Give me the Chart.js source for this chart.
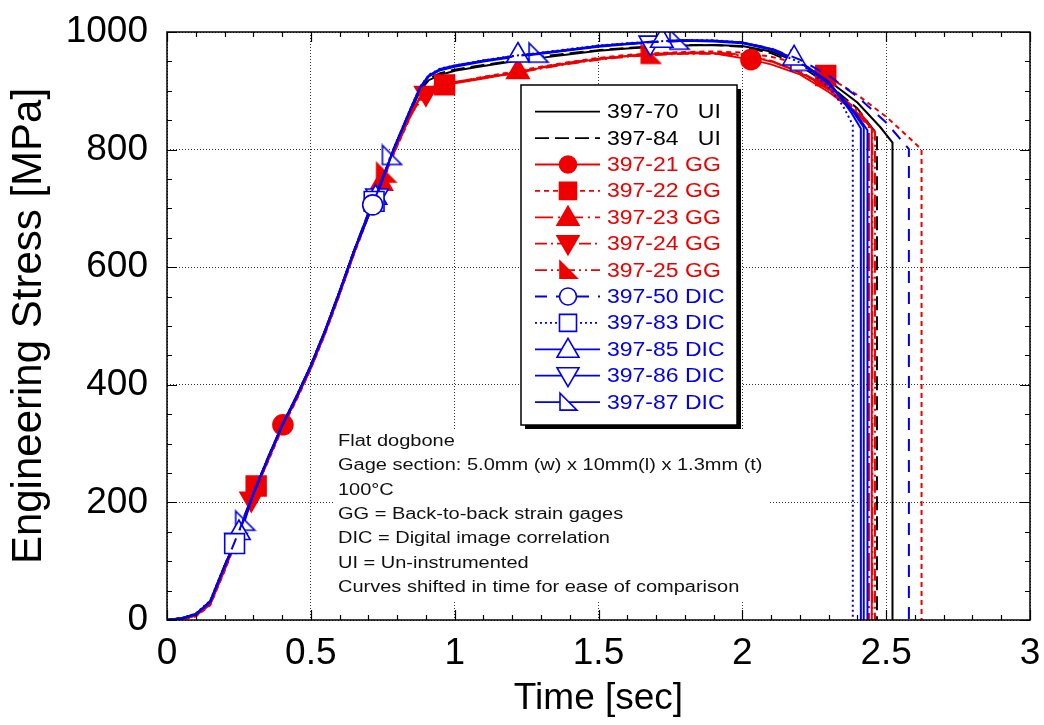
<!DOCTYPE html>
<html><head><meta charset="utf-8">
<script src="https://cdn.jsdelivr.net/npm/chart.js@4/dist/chart.umd.min.js"></script>
<style>html,body{margin:0;padding:0;background:#fff;}#wrap{width:1044px;height:725px;}</style>
</head><body><div id="wrap"><canvas id="c" width="1044" height="725"></canvas></div>
<script>
// ---------- data ----------
const xTickValues = [0, 0.5, 1, 1.5, 2, 2.5, 3];
const xTickLabels = ['0', '0.5', '1', '1.5', '2', '2.5', '3'];
const yTickValues = [0, 200, 400, 600, 800, 1000];
const yTickLabels = ['0', '200', '400', '600', '800', '1000'];
const seriesNames = ['397-70   UI','397-84   UI','397-21 GG','397-22 GG','397-23 GG','397-24 GG','397-25 GG','397-50 DIC','397-83 DIC','397-85 DIC','397-86 DIC','397-87 DIC'];
const annotationLines = ['Flat dogbone','Gage section: 5.0mm (w) x 10mm(l) x 1.3mm (t)','100\u00B0C','GG = Back-to-back strain gages','DIC = Digital image correlation','UI = Un-instrumented','Curves shifted in time for ease of comparison'];

// [time s, stress MPa]
const s397_70 = [[0,0],[0.05,2],[0.1,8],[0.15,28],[0.2,88],[0.25,150],[0.3,212],[0.35,272],[0.4,328],[0.45,377],[0.5,430],[0.55,490],[0.6,556],[0.65,626],[0.7,690],[0.75,750],[0.79,800],[0.85,868],[0.88,900],[0.91,918],[0.95,927],[1.0,934],[1.1,942],[1.2,950],[1.3,956],[1.4,962],[1.5,968],[1.6,972],[1.7,975],[1.8,977],[1.9,978],[2.0,976],[2.1,967],[2.2,947],[2.3,917],[2.4,880],[2.48,838],[2.522,812],[2.522,0]];
const s397_84 = [[0,0],[0.05,3],[0.1,10],[0.15,31],[0.2,92],[0.25,154],[0.3,215],[0.35,275],[0.4,331],[0.45,380],[0.5,433],[0.55,493],[0.6,559],[0.65,628],[0.7,693],[0.75,753],[0.79,803],[0.85,871],[0.88,903],[0.91,921],[0.95,930],[1.0,936],[1.1,944],[1.2,951],[1.3,958],[1.4,964],[1.5,969],[1.6,973],[1.7,976],[1.8,978],[1.9,978],[2.0,975],[2.1,964],[2.2,943],[2.3,910],[2.4,870],[2.468,826],[2.468,0]];
const s397_21 = [[0,0],[0.05,2],[0.1,7],[0.15,26],[0.2,85],[0.25,148],[0.3,210],[0.35,270],[0.403,332],[0.45,376],[0.5,429],[0.55,489],[0.6,555],[0.65,624],[0.7,688],[0.75,748],[0.79,797],[0.85,862],[0.88,888],[0.91,902],[0.95,909],[1.0,913],[1.1,921],[1.2,930],[1.3,939],[1.4,947],[1.5,954],[1.6,959],[1.7,962],[1.8,964],[1.9,964],[2.03,953],[2.1,945],[2.2,928],[2.3,898],[2.4,862],[2.45,836],[2.45,0]];
const s397_22 = [[0,0],[0.05,1],[0.1,6],[0.15,25],[0.2,83],[0.25,146],[0.31,228],[0.35,268],[0.4,325],[0.45,374],[0.5,427],[0.55,487],[0.6,553],[0.65,622],[0.7,686],[0.75,746],[0.79,795],[0.85,860],[0.88,886],[0.91,900],[0.965,910],[1.0,914],[1.1,924],[1.2,932],[1.3,941],[1.4,949],[1.5,956],[1.6,961],[1.7,964],[1.8,966],[1.9,967],[2.0,965],[2.1,958],[2.2,946],[2.29,926],[2.4,893],[2.5,856],[2.58,820],[2.623,800],[2.623,0]];
const s397_23 = [[0,0],[0.05,3],[0.1,9],[0.15,30],[0.2,90],[0.25,152],[0.3,214],[0.35,273],[0.4,330],[0.45,379],[0.5,431],[0.55,491],[0.6,557],[0.65,627],[0.7,691],[0.745,742],[0.79,799],[0.85,864],[0.88,890],[0.91,904],[0.95,911],[1.0,915],[1.1,923],[1.22,932],[1.3,940],[1.4,948],[1.5,955],[1.6,959],[1.7,963],[1.8,965],[1.9,965],[2.0,962],[2.1,950],[2.2,932],[2.3,903],[2.4,862],[2.44,838],[2.44,0]];
const s397_24 = [[0,0],[0.05,2],[0.1,8],[0.15,27],[0.2,86],[0.25,149],[0.293,206],[0.35,271],[0.4,327],[0.45,376],[0.5,428],[0.55,488],[0.6,554],[0.65,623],[0.7,687],[0.75,747],[0.79,796],[0.85,861],[0.9,896],[0.95,908],[1.0,914],[1.1,922],[1.2,929],[1.3,938],[1.4,946],[1.5,953],[1.6,958],[1.7,961],[1.8,963],[1.9,963],[2.0,960],[2.1,950],[2.2,933],[2.3,905],[2.4,868],[2.461,831],[2.461,0]];
const s397_25 = [[0,0],[0.05,2],[0.1,8],[0.15,28],[0.2,87],[0.25,150],[0.3,211],[0.35,271],[0.4,328],[0.45,377],[0.5,430],[0.55,490],[0.6,556],[0.65,625],[0.7,689],[0.76,760],[0.79,798],[0.85,863],[0.88,889],[0.91,903],[0.95,910],[1.0,914],[1.1,922],[1.2,930],[1.3,939],[1.4,947],[1.5,954],[1.6,959],[1.68,962],[1.8,964],[1.9,964],[2.0,961],[2.1,951],[2.2,931],[2.3,902],[2.4,866],[2.452,834],[2.452,0]];
const s397_50 = [[0,0],[0.05,3],[0.1,10],[0.15,31],[0.2,90],[0.25,151],[0.3,213],[0.35,273],[0.4,330],[0.45,379],[0.5,432],[0.55,492],[0.6,558],[0.65,627],[0.715,706],[0.75,752],[0.79,803],[0.85,872],[0.88,905],[0.91,925],[0.95,936],[1.0,942],[1.1,951],[1.2,958],[1.3,964],[1.4,970],[1.5,976],[1.6,980],[1.7,983],[1.8,985],[1.9,985],[2.0,982],[2.1,972],[2.2,953],[2.3,926],[2.4,890],[2.5,846],[2.579,801],[2.579,0]];
const s397_83 = [[0,0],[0.05,3],[0.1,11],[0.15,33],[0.2,93],[0.235,130],[0.3,216],[0.35,276],[0.4,332],[0.45,381],[0.5,434],[0.55,494],[0.6,560],[0.65,629],[0.72,712],[0.75,754],[0.79,805],[0.85,874],[0.88,907],[0.91,927],[0.95,938],[1.0,943],[1.1,952],[1.2,959],[1.3,965],[1.4,971],[1.5,977],[1.6,981],[1.7,984],[1.8,986],[1.9,986],[2.0,982],[2.1,970],[2.2,948],[2.3,906],[2.35,874],[2.384,842],[2.384,0]];
const s397_85 = [[0,0],[0.05,3],[0.1,10],[0.15,32],[0.2,92],[0.25,148],[0.3,215],[0.35,275],[0.4,331],[0.45,380],[0.5,433],[0.55,493],[0.6,559],[0.65,628],[0.725,718],[0.79,804],[0.85,873],[0.88,906],[0.91,926],[0.95,937],[1.0,943],[1.1,951],[1.22,960],[1.3,964],[1.4,970],[1.5,976],[1.6,980],[1.72,985],[1.8,986],[1.9,985],[2.0,982],[2.1,971],[2.18,955],[2.3,916],[2.38,862],[2.412,836],[2.412,0]];
const s397_86 = [[0,0],[0.05,2],[0.1,9],[0.15,30],[0.2,91],[0.24,136],[0.3,214],[0.35,274],[0.4,330],[0.45,379],[0.5,432],[0.55,492],[0.6,558],[0.65,627],[0.73,722],[0.79,803],[0.85,872],[0.88,905],[0.91,925],[0.95,935],[1.0,941],[1.1,950],[1.2,957],[1.3,963],[1.4,969],[1.5,975],[1.6,979],[1.68,982],[1.8,985],[1.9,984],[2.0,981],[2.1,970],[2.2,949],[2.3,912],[2.38,868],[2.422,838],[2.422,0]];
const s397_87 = [[0,0],[0.05,3],[0.1,10],[0.15,31],[0.2,92],[0.27,168],[0.3,214],[0.35,274],[0.4,331],[0.45,380],[0.5,433],[0.55,493],[0.6,559],[0.65,628],[0.7,692],[0.78,790],[0.85,872],[0.88,905],[0.91,925],[0.95,936],[1.0,942],[1.1,951],[1.2,958],[1.29,964],[1.4,970],[1.5,976],[1.6,980],[1.7,983],[1.78,986],[1.9,985],[2.0,982],[2.1,971],[2.2,950],[2.3,914],[2.4,858],[2.435,833],[2.435,0]];

// times (s) at which each series shows a marker
const mk397_70 = [];
const mk397_84 = [];
const mk397_21 = [0.403, 2.03];
const mk397_22 = [0.31, 0.965, 2.29];
const mk397_23 = [0.745, 1.22];
const mk397_24 = [0.293, 0.9];
const mk397_25 = [0.76, 1.68];
const mk397_50 = [0.715];
const mk397_83 = [0.235, 0.72];
const mk397_85 = [0.25, 0.725, 1.22, 1.72, 2.18];
const mk397_86 = [0.24, 0.73, 1.68];
const mk397_87 = [0.27, 0.78, 1.29, 1.78, 2.2];

// ---------- styles ----------
const BLACK = '#000000', RED = '#ee0000', BLUE = '#0000ee';
const FONT = '"Liberation Sans", Arial, Helvetica, sans-serif';

function rightTri(fill, stroke) {
  const c = document.createElement('canvas');
  c.width = 24; c.height = 24;
  const g = c.getContext('2d');
  g.beginPath(); g.moveTo(3, 2); g.lineTo(3, 21); g.lineTo(22, 21); g.closePath();
  g.fillStyle = fill; g.fill();
  g.lineWidth = 1.6; g.strokeStyle = stroke; g.stroke();
  return c;
}
const redRT = rightTri(RED, RED);
const blueRT = rightTri('#ffffff', BLUE);

const styleDefs = [
  {data:s397_70, mk:mk397_70, color:BLACK, dash:[], marker:null, filled:true, order:5},
  {data:s397_84, mk:mk397_84, color:BLACK, dash:[14,6], marker:null, filled:true, order:5},
  {data:s397_21, mk:mk397_21, color:RED, dash:[], marker:'circle', filled:true, order:3},
  {data:s397_22, mk:mk397_22, color:RED, dash:[5,4], marker:'rect', filled:true, order:3},
  {data:s397_23, mk:mk397_23, color:RED, dash:[18,5,2,5], marker:'triangle', filled:true, order:3},
  {data:s397_24, mk:mk397_24, color:RED, dash:[12,4,2,4], marker:'triangleDown', filled:true, order:3},
  {data:s397_25, mk:mk397_25, color:RED, dash:[12,4,2,4,2,4], marker:'rightTri', filled:true, order:3},
  {data:s397_50, mk:mk397_50, color:BLUE, dash:[12,9], marker:'circle', filled:false, order:1},
  {data:s397_83, mk:mk397_83, color:BLUE, dash:[2,3], marker:'rect', filled:false, order:1},
  {data:s397_85, mk:mk397_85, color:BLUE, dash:[], marker:'triangle', filled:false, order:1},
  {data:s397_86, mk:mk397_86, color:BLUE, dash:[], marker:'triangleDown', filled:false, order:1},
  {data:s397_87, mk:mk397_87, color:BLUE, dash:[], marker:'rightTri', filled:false, order:1}
];
const markerRadius = {circle:10, rect:14, triangle:13, triangleDown:13, rightTri:11};

const datasets = styleDefs.map((s, i) => {
  let ps = 'circle', rot = 0;
  if (s.marker === 'rect') ps = 'rect';
  else if (s.marker === 'triangle') ps = 'triangle';
  else if (s.marker === 'triangleDown') { ps = 'triangle'; rot = 180; }
  else if (s.marker === 'rightTri') ps = s.filled ? redRT : blueRT;
  const r = s.marker ? markerRadius[s.marker] : 0;
  return {
    label: seriesNames[i].replace(/\s+/g, ' '),
    data: s.data.map(p => ({x: p[0], y: p[1]})),
    borderColor: s.color,
    borderWidth: 2,
    borderDash: s.dash,
    showLine: true,
    fill: false,
    tension: 0,
    order: s.order,
    pointStyle: ps,
    pointRotation: rot,
    pointRadius: c => (c.raw && s.mk.some(m => Math.abs(m - c.raw.x) < 1e-9)) ? r : 0,
    pointHoverRadius: 0,
    pointBackgroundColor: s.filled ? s.color : '#ffffff',
    pointBorderColor: s.color,
    pointBorderWidth: 1.6
  };
});

// ---------- plugins ----------
function drawMarker(ctx, type, filled, color, x, y) {
  ctx.save();
  ctx.setLineDash([]);
  ctx.lineWidth = 1.6;
  ctx.strokeStyle = color;
  ctx.fillStyle = filled ? color : '#ffffff';
  ctx.beginPath();
  if (type === 'circle') { ctx.arc(x, y, 8.5, 0, Math.PI * 2); }
  else if (type === 'rect') { ctx.rect(x - 8.5, y - 8.5, 17, 17); }
  else if (type === 'triangle') { ctx.moveTo(x, y - 11); ctx.lineTo(x + 11, y + 8); ctx.lineTo(x - 11, y + 8); ctx.closePath(); }
  else if (type === 'triangleDown') { ctx.moveTo(x, y + 11); ctx.lineTo(x + 11, y - 8); ctx.lineTo(x - 11, y - 8); ctx.closePath(); }
  else if (type === 'rightTri') { ctx.moveTo(x - 8, y - 9); ctx.lineTo(x - 8, y + 8); ctx.lineTo(x + 9, y + 8); ctx.closePath(); }
  ctx.fill(); ctx.stroke();
  ctx.restore();
}

function scaledText(ctx, txt, x, y, sx) {
  ctx.save();
  ctx.translate(x, y);
  ctx.scale(sx, 1);
  ctx.fillText(txt, 0, 0);
  ctx.restore();
}

const overlayPlugin = {
  id: 'overlay',
  afterDatasetsDraw(chart) {
    const ctx = chart.ctx;
    const area = chart.chartArea;
    const xs = chart.scales.x, ys = chart.scales.y;

    // annotation block (white background)
    ctx.save();
    ctx.fillStyle = '#ffffff';
    ctx.fillRect(334, 429, 434, 172);
    ctx.fillStyle = '#111111';
    ctx.font = '16px ' + FONT;
    ctx.textBaseline = 'alphabetic';
    ctx.textAlign = 'left';
    annotationLines.forEach((t, i) => scaledText(ctx, t, 338, 446 + i * 24.3, 1.25));
    ctx.restore();

    // legend
    const L = {x: 521, y: 85, w: 216, h: 340};
    ctx.save();
    ctx.fillStyle = '#000';
    ctx.fillRect(L.x + 4, L.y + 4, L.w, L.h);
    ctx.fillStyle = '#fff';
    ctx.fillRect(L.x, L.y, L.w, L.h);
    ctx.lineWidth = 1.5;
    ctx.strokeStyle = '#000';
    ctx.strokeRect(L.x, L.y, L.w, L.h);
    ctx.font = '20px ' + FONT;
    ctx.textBaseline = 'middle';
    ctx.textAlign = 'left';
    styleDefs.forEach((s, i) => {
      const cy = 111.7 + i * 26.4;
      ctx.save();
      ctx.strokeStyle = s.color;
      ctx.lineWidth = 1.8;
      ctx.setLineDash(s.dash);
      ctx.beginPath(); ctx.moveTo(535, cy); ctx.lineTo(600, cy); ctx.stroke();
      ctx.restore();
      if (s.marker) drawMarker(ctx, s.marker, s.filled, s.color, 568, cy);
      ctx.fillStyle = s.color;
      scaledText(ctx, seriesNames[i], 607, cy + 1, 1.15);
    });
    ctx.restore();

    // frame + inward ticks
    ctx.save();
    ctx.strokeStyle = '#000';
    ctx.setLineDash([]);
    ctx.lineWidth = 1.5;
    ctx.strokeRect(area.left, area.top, area.right - area.left, area.bottom - area.top);
    ctx.lineWidth = 1.2;
    ctx.beginPath();
    for (let i = 0; i <= 30; i++) {
      const px = Math.round(xs.getPixelForValue(i / 10)) + 0.5;
      const len = (i % 5 === 0) ? 10 : 5;
      ctx.moveTo(px, area.bottom); ctx.lineTo(px, area.bottom - len);
      ctx.moveTo(px, area.top); ctx.lineTo(px, area.top + len);
    }
    for (let i = 0; i <= 20; i++) {
      const py = Math.round(ys.getPixelForValue(i * 50)) + 0.5;
      const len = (i % 4 === 0) ? 10 : 5;
      ctx.moveTo(area.left, py); ctx.lineTo(area.left + len, py);
      ctx.moveTo(area.right, py); ctx.lineTo(area.right - len, py);
    }
    ctx.stroke();
    ctx.restore();
  }
};

Chart.defaults.font.family = FONT;
Chart.defaults.color = '#000';

new Chart(document.getElementById('c'), {
  type: 'scatter',
  data: {datasets},
  options: {
    responsive: false,
    animation: false,
    events: [],
    layout: {padding: {top: 32, right: 14, left: 0, bottom: 0}},
    plugins: {legend: {display: false}, tooltip: {enabled: false}},
    scales: {
      x: {
        type: 'linear', min: 0, max: 3,
        afterFit: s => { s.height = 105; s.paddingLeft = 0; s.paddingRight = 0; },
        afterBuildTicks: s => { s.ticks = xTickValues.map(v => ({value: v})); },
        ticks: {autoSkip: false, maxRotation: 0, padding: 12, font: {size: 37},
          callback: v => { const i = xTickValues.indexOf(v); return i >= 0 ? xTickLabels[i] : ''; }},
        grid: {color: '#333', lineWidth: 1, drawTicks: false},
        border: {display: false, dash: [1, 2]},
        title: {display: true, text: 'Time [sec]', font: {size: 37}, padding: {top: 0, bottom: 4}}
      },
      y: {
        type: 'linear', min: 0, max: 1000,
        afterFit: s => { s.width = 167; s.paddingTop = 0; s.paddingBottom = 0; },
        afterBuildTicks: s => { s.ticks = yTickValues.map(v => ({value: v})); },
        ticks: {autoSkip: false, padding: 19, font: {size: 37},
          callback: v => { const i = yTickValues.indexOf(v); return i >= 0 ? yTickLabels[i] : ''; }},
        grid: {color: '#333', lineWidth: 1, drawTicks: false},
        border: {display: false, dash: [1, 2]},
        title: {display: true, text: 'Engineering Stress [MPa]', font: {size: 42}, padding: {top: 4, bottom: 0}}
      }
    }
  },
  plugins: [overlayPlugin]
});
</script>
</body></html>
